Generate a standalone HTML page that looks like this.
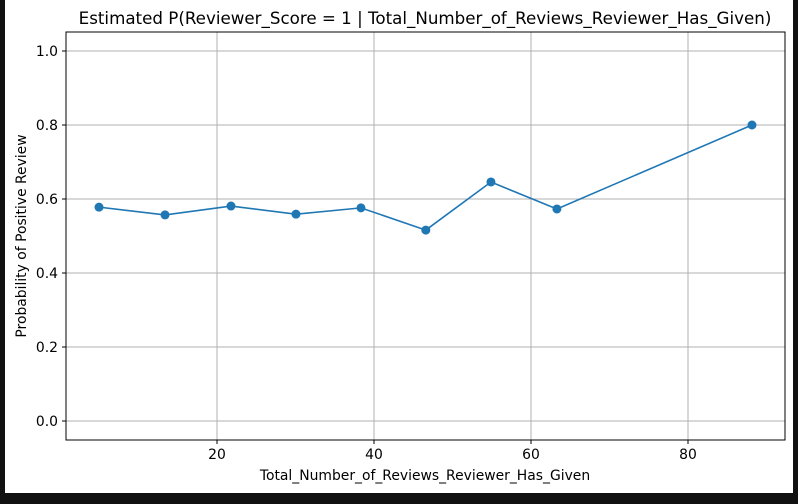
<!DOCTYPE html>
<html><head><meta charset="utf-8"><style>
body{margin:0;background:#111;}
svg{display:block;font-family:"DejaVu Sans","Liberation Sans",sans-serif;}
</style></head><body>
<svg id="c" width="798" height="504" xmlns="http://www.w3.org/2000/svg">
<rect x="0" y="0" width="798" height="504" fill="#111"/>
<rect x="5" y="0" width="788" height="493" fill="#fff"/>
<text x="425" y="24" font-size="16.7" text-anchor="middle">Estimated P(Reviewer_Score = 1 | Total_Number_of_Reviews_Reviewer_Has_Given)</text>
<g id="grid"></g><g id="axes"></g><g id="marks"></g>
<text x="425" y="480" font-size="13.9" text-anchor="middle">Total_Number_of_Reviews_Reviewer_Has_Given</text>
<text x="26" y="236" font-size="13.9" text-anchor="middle" transform="rotate(-90 26 236)">Probability of Positive Review</text>
</svg>
<script>
const xValues=[4.97,13.38,21.78,30.06,38.34,46.6,54.9,63.3,88.15];
const yValues=[0.578,0.557,0.581,0.559,0.576,0.516,0.646,0.573,0.8];
const xTicks=[20,40,60,80];
const yTicks=[0.0,0.2,0.4,0.6,0.8,1.0];
const L=66,R=785,T=32,B=440;
function sx(v){return 60+v*7.85;}
function sy(v){return 421-v*370;}
const NS="http://www.w3.org/2000/svg";
function mk(p,t,a){const e=document.createElementNS(NS,t);for(const k in a)e.setAttribute(k,a[k]);document.getElementById(p).appendChild(e);return e;}
xTicks.forEach(v=>{
 const g=mk('grid','line',{x1:sx(v),x2:sx(v),y1:T,y2:B,stroke:'#b0b0b0','stroke-width':1});
 
 
 mk('axes','line',{x1:sx(v),x2:sx(v),y1:B,y2:B+4,stroke:'#000'});
 const t=mk('axes','text',{x:sx(v),y:B+19,'font-size':13.9,'text-anchor':'middle'});t.textContent=v;
 
 
});
yTicks.forEach(v=>{
 const g=mk('grid','line',{x1:L,x2:R,y1:sy(v),y2:sy(v),stroke:'#b0b0b0','stroke-width':1});
 
 
 mk('axes','line',{x1:L-4,x2:L,y1:sy(v),y2:sy(v),stroke:'#000'});
 const t=mk('axes','text',{x:L-8,y:sy(v)+5,'font-size':13.9,'text-anchor':'end'});t.textContent=v.toFixed(1);
 
 
});
const ax=mk('axes','rect',{x:L,y:T,width:R-L,height:B-T,fill:'none',stroke:'#000','stroke-width':1});


const ln=mk('marks','polyline',{points:xValues.map((x,i)=>sx(x)+','+sy(yValues[i])).join(' '),fill:'none',stroke:'#1f77b4','stroke-width':1.6});


xValues.forEach((x,i)=>{
 const c=mk('marks','circle',{cx:sx(x),cy:sy(yValues[i]),r:4.5,fill:'#1f77b4'});
 
 
});
</script>
</body></html>
